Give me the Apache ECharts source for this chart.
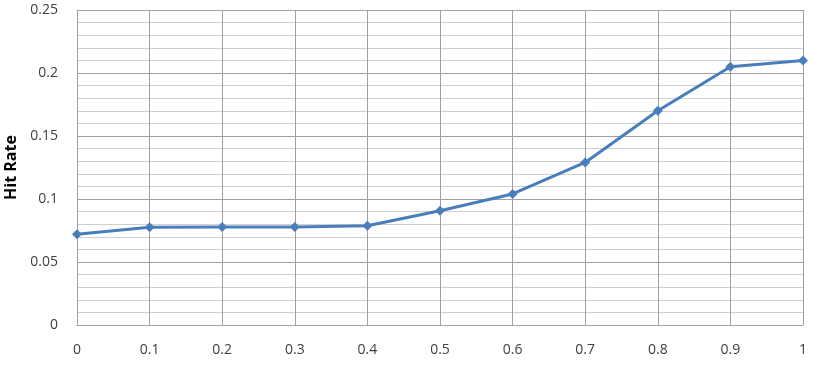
<!DOCTYPE html>
<html>
<head>
<meta charset="utf-8">
<script src="https://cdn.jsdelivr.net/npm/echarts@6/dist/echarts.min.js"></script>
<style>html,body{margin:0;padding:0;background:#fff;}#c{width:819px;height:392px;}</style>
</head>
<body>
<div id="c"></div>
<script>
const xValues = [0, 0.1, 0.2, 0.3, 0.4, 0.5, 0.6, 0.7, 0.8, 0.9, 1];
const hitRate = [0.072, 0.0775, 0.0777, 0.0777, 0.0788, 0.0907, 0.104, 0.129, 0.170, 0.205, 0.210];
const yTitle = 'Hit Rate';

const chart = echarts.init(document.getElementById('c'), null, {renderer: 'canvas'});
const font = '"Open Sans", "Noto Sans", sans-serif';
chart.setOption({
  animation: false,
  backgroundColor: '#fff',
  grid: {left: 77, right: 16, top: 10, bottom: 67, containLabel: false, outerBoundsMode: 'none'},
  xAxis: {
    type: 'value', min: 0, max: 1, interval: 0.1,
    axisLine: {show: true, lineStyle: {color: '#a0a0a0', width: 1}},
    axisTick: {show: false},
    axisLabel: {color: '#404040', fontFamily: font, fontSize: 14, margin: 18,
      formatter: v => String(Math.round(v * 10) / 10)},
    splitLine: {show: true, lineStyle: {color: '#a0a0a0', width: 1}}
  },
  yAxis: {
    type: 'value', min: 0, max: 0.25, interval: 0.05,
    name: yTitle, nameLocation: 'middle', nameGap: 58,
    nameTextStyle: {color: '#000', fontFamily: font, fontSize: 16, fontWeight: 'bold'},
    axisLine: {show: true, lineStyle: {color: '#a0a0a0', width: 1}},
    axisTick: {show: false},
    axisLabel: {color: '#404040', fontFamily: font, fontSize: 14, margin: 19,
      formatter: v => String(Math.round(v * 100) / 100)},
    splitLine: {show: true, lineStyle: {color: '#a0a0a0', width: 1}},
    minorTick: {show: false, splitNumber: 5},
    minorSplitLine: {show: true, lineStyle: {color: '#cfcfcf', width: 1}}
  },
  series: [{
    type: 'line',
    data: xValues.map((x, i) => [x, hitRate[i]]),
    symbol: 'diamond', symbolSize: 10,
    lineStyle: {color: '#4a7ebb', width: 3},
    itemStyle: {color: '#4a7ebb'}
  }]
});
</script>
</body>
</html>
